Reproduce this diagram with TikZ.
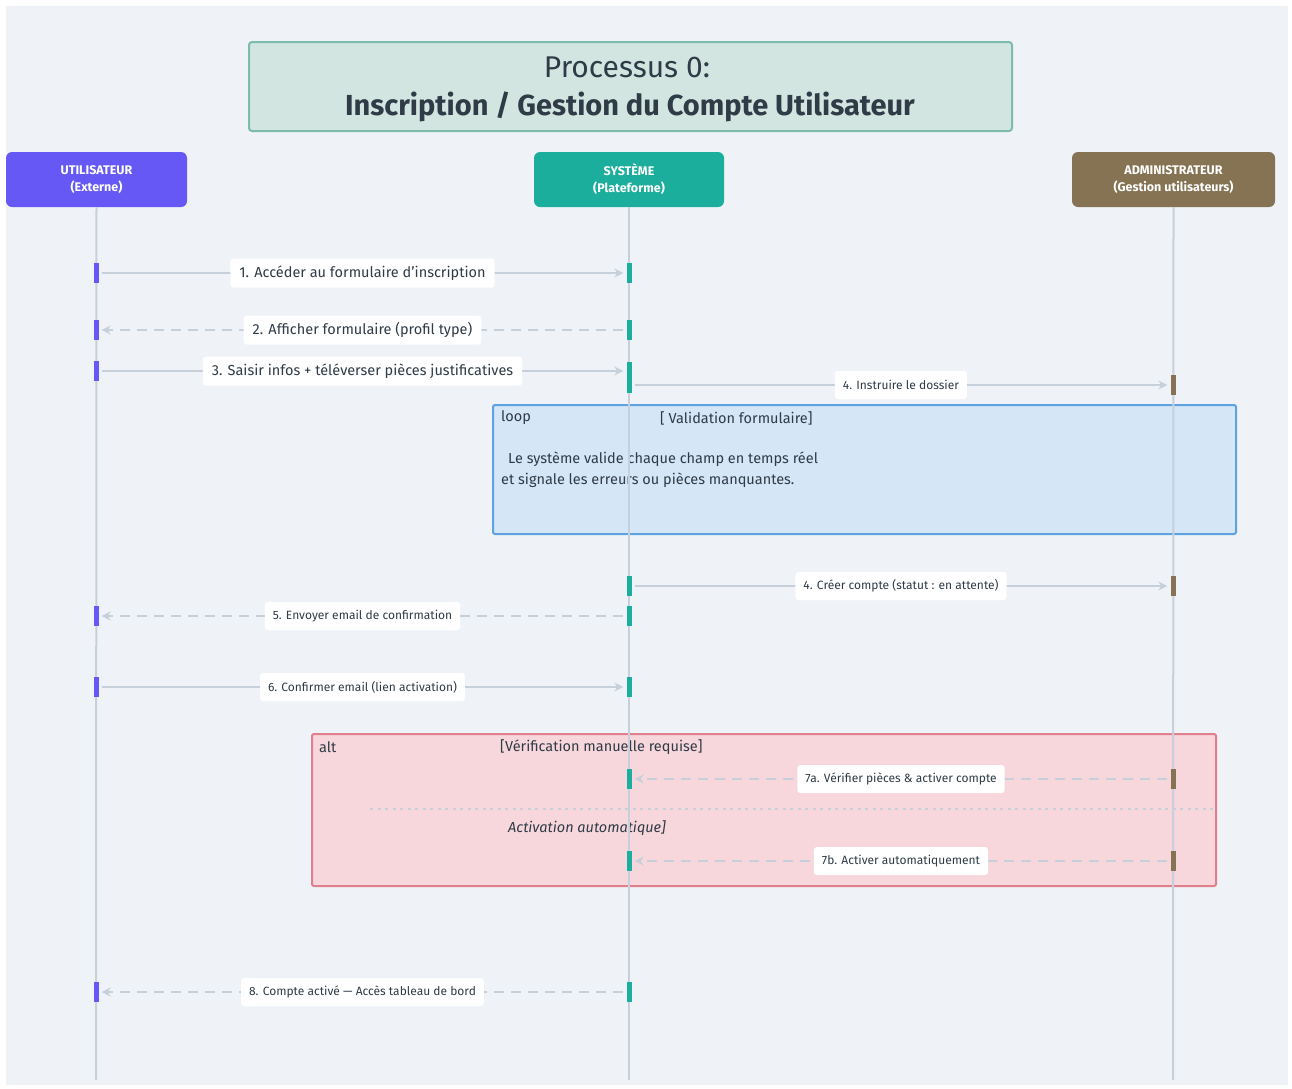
\documentclass[tikz,border=0pt]{standalone}
\usepackage{fontspec}
\setmainfont{Fira Sans}
\usetikzlibrary{arrows.meta}
\definecolor{bgc}{HTML}{EFF3F7}
\definecolor{lifec}{HTML}{C6D0DA}
\definecolor{txtc}{HTML}{2F3B46}
\definecolor{userc}{HTML}{6658F4}
\definecolor{sysc}{HTML}{1BAE9C}
\definecolor{admc}{HTML}{857353}
\definecolor{titlefill}{HTML}{D3E5E1}
\definecolor{titledraw}{HTML}{7DBBAA}
\definecolor{loopfill}{HTML}{D5E6F6}
\definecolor{loopdraw}{HTML}{5FA2E2}
\definecolor{altfill}{HTML}{F7D7DC}
\definecolor{altdraw}{HTML}{E07F8D}
\tikzset{
  actor/.style={rounded corners=6pt, text=white, align=center, inner sep=0pt,
    font=\fontsize{12.5}{17}\selectfont\bfseries},
  lifeline/.style={draw=lifec, line width=2pt},
  bar/.style={minimum width=5pt, minimum height=20pt, inner sep=0pt, draw=none},
  ubar/.style={bar, fill=userc},
  sbar/.style={bar, fill=sysc},
  abar/.style={bar, fill=admc},
  msg/.style={draw=lifec, line width=2pt, shorten >=3pt, shorten <=3pt,
    -{Stealth[length=9pt,width=9pt,inset=3pt]}},
  reply/.style={msg, dash pattern=on 10pt off 7pt},
  lbl/.style={fill=white, rounded corners=3pt, text=txtc, inner xsep=9pt,
    minimum height=29pt, font=\fontsize{14.5}{17}\selectfont},
  slbl/.style={lbl, inner xsep=8pt, minimum height=28pt, font=\fontsize{12}{14}\selectfont},
  frametxt/.style={text=txtc, anchor=west, inner sep=0pt, font=\fontsize{14.5}{17}\selectfont},
}
\begin{document}
\begin{tikzpicture}[x=1pt, y=-1pt]
  \useasboundingbox (0,0) rectangle (1292,1088);
  \fill[white] (0,0) rectangle (1292,1088);
  \fill[bgc] (6,6) rectangle (1288,1085);

  % title
  \node[draw=titledraw, fill=titlefill, line width=2pt, rounded corners=3pt,
        minimum width=763pt, minimum height=89pt, inner sep=0pt] (title) at (630.5,86.5) {};
  \node[text=txtc, font=\fontsize{30}{36}\selectfont] (t1) at (627,67) {Processus 0:};
  \node[text=txtc, font=\fontsize{29}{36}\selectfont\bfseries] (t2) at (630,107) {Inscription / Gestion du Compte Utilisateur};

  % actors
  \node[actor, fill=userc, minimum width=181pt, minimum height=55pt] (user) at (96.5,179.5) {UTILISATEUR\\(Externe)};
  \node[actor, fill=sysc, minimum width=190pt, minimum height=55pt] (sys) at (629,179.5) {SYSTÈME\\(Plateforme)};
  \node[actor, fill=admc, minimum width=203pt, minimum height=55pt] (adm) at (1173.5,179.5) {ADMINISTRATEUR\\(Gestion utilisateurs)};

  % combined fragments
  \node[draw=loopdraw, fill=loopfill, line width=2pt, rounded corners=2pt,
        minimum width=743pt, minimum height=129pt, inner sep=0pt] (loop) at (864.5,469.5) {};
  \node[frametxt] (looplbl) at (501,418) {loop};
  \node[frametxt] (loopcond) at (660,418) {[ Validation formulaire]};
  \node[frametxt, align=left, font=\fontsize{14.5}{21}\selectfont] (loopnote) at (501,469.5)
    {\hspace*{7pt}Le système valide chaque champ en temps réel\\et signale les erreurs ou pièces manquantes.};

  \node[draw=altdraw, fill=altfill, line width=2pt, rounded corners=2pt,
        minimum width=904pt, minimum height=152pt, inner sep=0pt] (alt) at (764,810) {};
  \node[frametxt] (altlbl) at (319,747) {alt};
  \node[frametxt] (altcond) at (500,747) {[Vérification manuelle requise]};
  \coordinate (sepL) at (370,809);
  \coordinate (sepR) at (1215,809);
  \draw[lifec, line width=2pt, dash pattern=on 3pt off 4.5pt] (sepL) -- (sepR);
  \node[frametxt, font=\fontsize{14.5}{17}\selectfont\itshape] (altelse) at (508,828) {Activation automatique]};

  % lifelines
  \coordinate (uend) at (96,1080);
  \coordinate (send) at (629,1080);
  \coordinate (aend) at (1173,1080);
  \draw[lifeline] (user.south) -- (uend);
  \draw[lifeline] (sys.south) -- (send);
  \draw[lifeline] (adm.south) -- (aend);

  % activation bars
  \node[ubar] (u1) at (96,273) {};   \node[sbar] (s1) at (629,273) {};
  \node[ubar] (u2) at (96,330) {};   \node[sbar] (s2) at (629,330) {};
  \node[ubar] (u3) at (96,371) {};   \node[sbar, minimum height=31pt] (s3) at (629,377.5) {};
  \coordinate (s4) at (631.5,385);   \node[abar] (a4) at (1173,385) {};
  \node[sbar] (s5) at (629,586) {};  \node[abar] (a5) at (1173,586) {};
  \node[ubar] (u6) at (96,616) {};   \node[sbar] (s6) at (629,616) {};
  \node[ubar] (u7) at (96,687) {};   \node[sbar] (s7) at (629,687) {};
  \node[sbar] (s8) at (629,779) {};  \node[abar] (a8) at (1173,779) {};
  \node[sbar] (s9) at (629,861) {};  \node[abar] (a9) at (1173,861) {};
  \node[ubar] (u10) at (96,992) {};  \node[sbar] (s10) at (629,992) {};

  % messages
  \draw[msg] (u1) -- (s1) node[midway, lbl] (m1) {1. Accéder au formulaire d’inscription};
  \draw[reply] (s2) -- (u2) node[midway, lbl] (m2) {2. Afficher formulaire (profil type)};
  \draw[msg] (u3) -- (s3.west |- u3) node[midway, lbl] (m3) {3. Saisir infos + téléverser pièces justificatives};
  \draw[msg] (s4) -- (a4) node[midway, slbl] (m4) {4. Instruire le dossier};
  \draw[msg] (s5) -- (a5) node[midway, slbl] (m5) {4. Créer compte (statut : en attente)};
  \draw[reply] (s6) -- (u6) node[midway, slbl] (m6) {5. Envoyer email de confirmation};
  \draw[msg] (u7) -- (s7) node[midway, slbl] (m7) {6. Confirmer email (lien activation)};
  \draw[reply] (a8) -- (s8) node[midway, slbl] (m8) {7a. Vérifier pièces \& activer compte};
  \draw[reply] (a9) -- (s9) node[midway, slbl] (m9) {7b. Activer automatiquement};
  \draw[reply] (s10) -- (u10) node[midway, slbl] (m10) {8. Compte activé — Accès tableau de bord};
\end{tikzpicture}
\end{document}
